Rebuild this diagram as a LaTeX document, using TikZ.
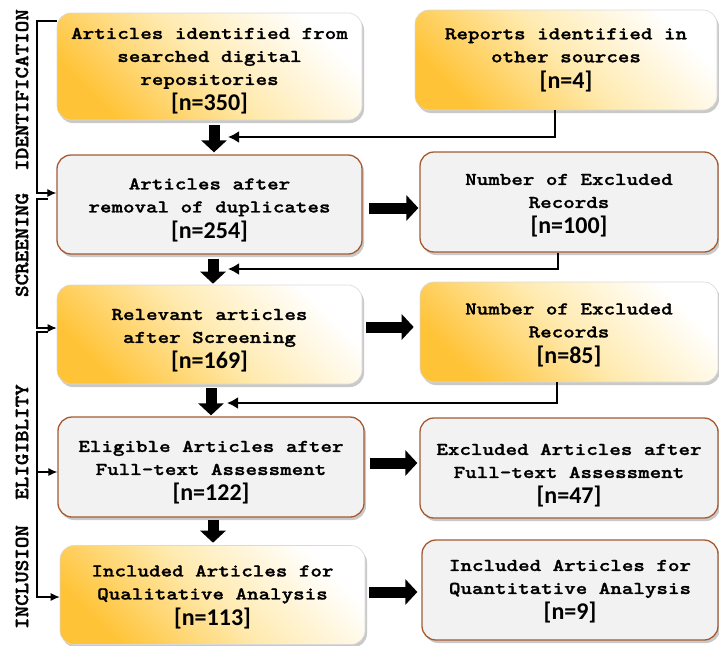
\documentclass[tikz,border=0pt]{standalone}
\usepackage{fontspec}
\usetikzlibrary{arrows.meta,shadows,calc}
\newfontfamily\boxtt{lmmonolt10-bold.otf}[FakeStretch=1.22,FakeBold=1.3]
\newfontfamily\labtt{lmmonolt10-bold.otf}[FakeStretch=1.1,FakeBold=1.5]
\newfontfamily\numf{Carlito}
\definecolor{ornD}{RGB}{255,195,55}
\definecolor{ornM}{RGB}{255,234,175}
\definecolor{grayF}{RGB}{242,242,242}
\definecolor{brownB}{RGB}{165,90,50}
\newcommand\nval[1]{\\[3pt]{\numf\bfseries\fontsize{24}{23}\selectfont[n=#1]}}
\newcommand\tsh[1]{\rule{0pt}{\dimexpr 12.5pt+#1pt+#1pt\relax}}
\begin{document}
\begin{tikzpicture}[x=1pt,y=-1pt,
  box/.style={rounded corners=14pt, minimum width=305pt, minimum height=100pt,
    inner sep=0pt, align=center, font=\boxtt\fontsize{18}{23}\selectfont,
    drop shadow={shadow xshift=2pt, shadow yshift=-3pt, opacity=0.3, fill=black!70}},
  obox/.style={box, draw=black!15, line width=0.6pt, top color=white,
    bottom color=ornD, middle color=ornM, shading angle=-45},
  gbox/.style={box, fill=grayF, draw=brownB, line width=1.3pt},
  lab/.style={rotate=90, inner sep=0pt, font=\labtt\fontsize{20}{20}\selectfont},
  blk/.style={line width=11pt, -{Triangle[length=12pt,width=25pt]}},
  feed/.style={line width=2.2pt, -{Latex[length=11pt,width=12pt]}},
  brk/.style={line width=1.1pt},
  brka/.style={brk, -{Latex[length=9pt,width=8pt]}}]
\useasboundingbox (0,0) rectangle (719,645);
% boxes
\node[obox, minimum height=107pt] (b1) at (209.5,66.5) {\tsh{4}Articles identified from\\searched digital\\repositories\nval{350}};
\node[obox, minimum width=302pt] (b2) at (566,60) {Reports identified in\\other sources\nval{4}};
\node[gbox, minimum height=99pt] (b3) at (209.5,204.5) {\tsh{5}Articles after\\removal of duplicates\nval{254}};
\node[gbox, minimum width=298pt] (b4) at (569,202) {\tsh{3}Number of Excluded\\Records\nval{100}};
\node[obox, minimum height=99pt] (b5) at (209.5,334.5) {\tsh{5.5}Relevant articles\\after Screening\nval{169}};
\node[obox, minimum width=298pt] (b6) at (569,332) {\tsh{2.5}Number of Excluded\\Records\nval{85}};
\node[gbox, minimum width=306pt] (b7) at (211,467) {\tsh{5}Eligible Articles after\\Full-text Assessment\nval{122}};
\node[gbox, minimum width=298pt] (b8) at (569,468) {\tsh{7}Excluded Articles after\\Full-text Assessment\nval{47}};
\node[obox, minimum height=99pt] (b9) at (212.5,595) {\tsh{1.5}Included Articles for\\Qualitative Analysis\nval{113}};
\node[gbox, minimum width=296pt] (b10) at (570,590) {\tsh{1}Included Articles for\\Quantitative Analysis\nval{9}};
% stage labels
\node[lab] (l1) at (22,90) {IDENTIFICATION};
\node[lab] (l2) at (22,245) {SCREENING};
\node[lab] (l3) at (22,442) {ELIGIBLITY};
\node[lab] (l4) at (22,577) {INCLUSION};
% helper coordinates
\coordinate (xa) at (214,0);
\coordinate (xb) at (213,0);
\coordinate (xc) at (211,0);
\coordinate (xd) at (213,0);
\coordinate (ya) at (0,208);
\coordinate (yb) at (0,327);
\coordinate (yc) at (0,463);
\coordinate (yd) at (0,592);
\coordinate (f1) at (228,137);
\coordinate (f2) at (228,269);
\coordinate (f3) at (227,403);
\coordinate (k1) at (37,21);
\coordinate (k2) at (37,199);
\coordinate (k3) at (37,332);
\coordinate (k4) at (37,472);
% block arrows down
\draw[blk, shorten <=5pt, shorten >=2pt] (b1.south -| xa) -- (b3.north -| xa);
\draw[blk, shorten <=4pt, shorten >=1pt] (b3.south -| xb) -- (b5.north -| xb);
\draw[blk, shorten <=4pt, shorten >=1pt] (b5.south -| xc) -- (b7.north -| xc);
\draw[blk, shorten <=2pt, shorten >=2.5pt] (b7.south -| xd) -- (b9.north -| xd);
% block arrows right
\draw[blk, shorten <=6pt, shorten >=1pt] (b3.east |- ya) -- (b4.west |- ya);
\draw[blk, shorten <=4pt, shorten >=6pt] (b5.east |- yb) -- (b6.west |- yb);
\draw[blk, shorten <=5pt, shorten >=2pt] (b7.east |- yc) -- (b8.west |- yc);
\draw[blk, shorten <=4pt, shorten >=4pt] (b9.east |- yd) -- (b10.west |- yd);
% feed-in arrows
\draw[feed] ($(b2.south)+(-11,0)$) |- (f1);
\draw[feed] ($(b4.south)+(-11,0)$) |- (f2);
\draw[feed] ($(b6.south)+(-12,0)$) |- (f3);
% left bracket
\draw[brka] (b1.west |- k1) -- (k1) |- ($(b3.west)+(0,-11.5)$);
\draw[brka] ($(k2)+(11,0)$) -- (k2) |- ($(b5.west)+(0,-6.5)$);
\draw[brka] ($(k3)+(11,0)$) -- (k3) |- ($(b7.west)+(0,5)$);
\draw[brka] (k4) |- ($(b9.west)+(0,2)$);
\end{tikzpicture}
\end{document}
